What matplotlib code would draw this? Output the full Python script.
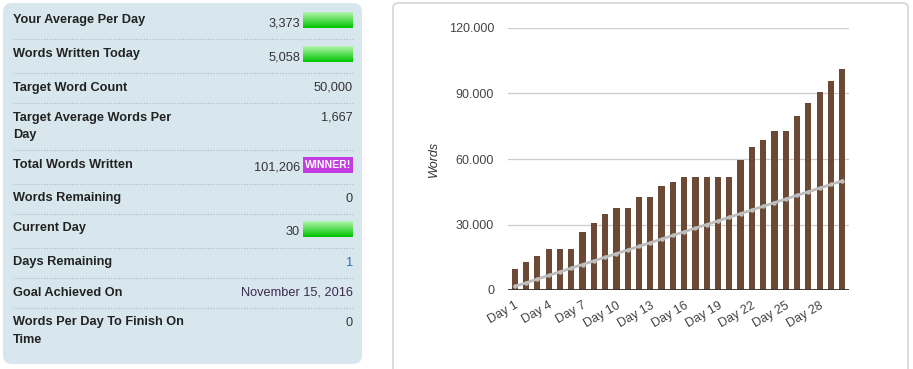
import numpy as np
import matplotlib
matplotlib.use("Agg")
import matplotlib.pyplot as plt
from matplotlib.patches import FancyBboxPatch, Rectangle

plt.rcParams['font.family'] = ['Liberation Sans', 'DejaVu Sans']

# stats table
stat_labels = ["Your Average Per Day", "Words Written Today", "Target Word Count",
               "Target Average Words Per\nDay", "Total Words Written", "Words Remaining",
               "Current Day", "Days Remaining", "Goal Achieved On",
               "Words Per Day To Finish On\nTime"]
stat_values = ["3,373", "5,058", "50,000", "1,667", "101,206", "0",
               "30", "1", "November 15, 2016", "0"]
stat_badges = ["bar", "bar", None, None, "winner", None, "bar", None, None, None]

# chart data
days = [f"Day {i}" for i in range(1, 31)]
words = [9800, 13000, 15700, 18900, 18900, 18900, 26700, 30800, 35000, 37700,
         37700, 42700, 42700, 47800, 49600, 51900, 51900, 51900, 51900, 51900,
         59700, 65600, 68900, 73000, 73000, 79800, 85800, 90800, 95900, 101206]
target = [1667, 3333, 5000, 6667, 8333, 10000, 11667, 13333, 15000, 16667,
          18333, 20000, 21667, 23333, 25000, 26667, 28333, 30000, 31667, 33333,
          35000, 36667, 38333, 40000, 41667, 43333, 45000, 46667, 48333, 50000]
yticks = [0, 30000, 60000, 90000, 120000]
ytick_labels = ["0", "30.000", "60.000", "90.000", "120.000"]

W, H = 913, 369
fig = plt.figure(figsize=(W / 100, H / 100), dpi=100)
bg = fig.add_axes([0, 0, 1, 1])
bg.set_xlim(0, W)
bg.set_ylim(H, 0)
bg.axis('off')

# left panel
bg.add_patch(FancyBboxPatch((3, 3), 359, 361, boxstyle="round,pad=0,rounding_size=9",
                            fc='#d8e7ee', ec='none'))
# right card
bg.add_patch(FancyBboxPatch((393, 3), 515, 380, boxstyle="round,pad=0,rounding_size=5",
                            fc='white', ec='#d6d6d6', lw=1.2))

grad = np.linspace(0, 1, 50).reshape(-1, 1)
green = matplotlib.colors.LinearSegmentedColormap.from_list('g', ['#b2f6ac', '#00c400'])

top = 5
for i, (lab, val, badge) in enumerate(zip(stat_labels, stat_values, stat_badges)):
    nlines = lab.count("\n") + 1
    h = 30 + (4 if badge else 0) + 17 * (nlines - 1)
    bg.text(13, top + 8.5, lab, ha='left', va='top', fontsize=9.2, fontweight='bold',
            color='#222222', linespacing=1.6)
    vcol = '#333333'
    if lab == "Days Remaining":
        vcol = '#2b6cb0'
    elif lab == "Goal Achieved On":
        vcol = '#3c2a4c'
    if badge:
        bg.text(300, top + 12, val, ha='right', va='top', fontsize=9.2, color=vcol)
        if badge == "bar":
            bg.imshow(grad, cmap=green, extent=(303, 353, top + 23, top + 7),
                      aspect='auto', origin='upper', zorder=3)
        else:
            bg.add_patch(Rectangle((303, top + 7), 50, 16, fc='#c33ee2', ec='none', zorder=3))
            bg.text(328, top + 15.5, "WINNER!", ha='center', va='center', fontsize=7.6,
                    fontweight='bold', color='white', zorder=4)
    else:
        bg.text(353, top + 8.5, val, ha='right', va='top', fontsize=9.2, color=vcol)
    top += h
    if i < len(stat_labels) - 1:
        bg.plot([13, 353], [top, top], ls=(0, (1, 1.5)), color='#9fbccb', lw=0.8)
bg.set_xlim(0, W)
bg.set_ylim(H, 0)

# bar chart
ax = fig.add_axes([508 / W, (H - 290) / H, 341 / W, 262 / H])
x = np.arange(len(days))
ax.bar(x, words, width=0.55, color='#6b4934', zorder=2)
ax.plot(x, target, color='#bdbdbd', lw=2, marker='o', ms=2.2, zorder=3)
ax.set_xlim(-0.6, len(days) - 0.4)
ax.set_ylim(0, 120000)
ax.set_yticks(yticks)
ax.set_yticklabels(ytick_labels)
ax.yaxis.grid(True, color='#cccccc', lw=0.9, zorder=0)
ax.axhline(0, color='#333333', lw=1.3, zorder=4)
ax.set_xticks(x[::3])
ax.set_xticklabels(days[::3], rotation=30, ha='right', rotation_mode='anchor')
ax.tick_params(axis='both', length=0, labelsize=9, labelcolor='#444444')
ax.tick_params(axis='y', pad=10)
ax.tick_params(axis='x', pad=7)
for s in ax.spines.values():
    s.set_visible(False)
ax.set_ylabel("Words", fontstyle='italic', fontsize=9, color='#333333', labelpad=6)

fig.savefig("out.png", dpi=100)
